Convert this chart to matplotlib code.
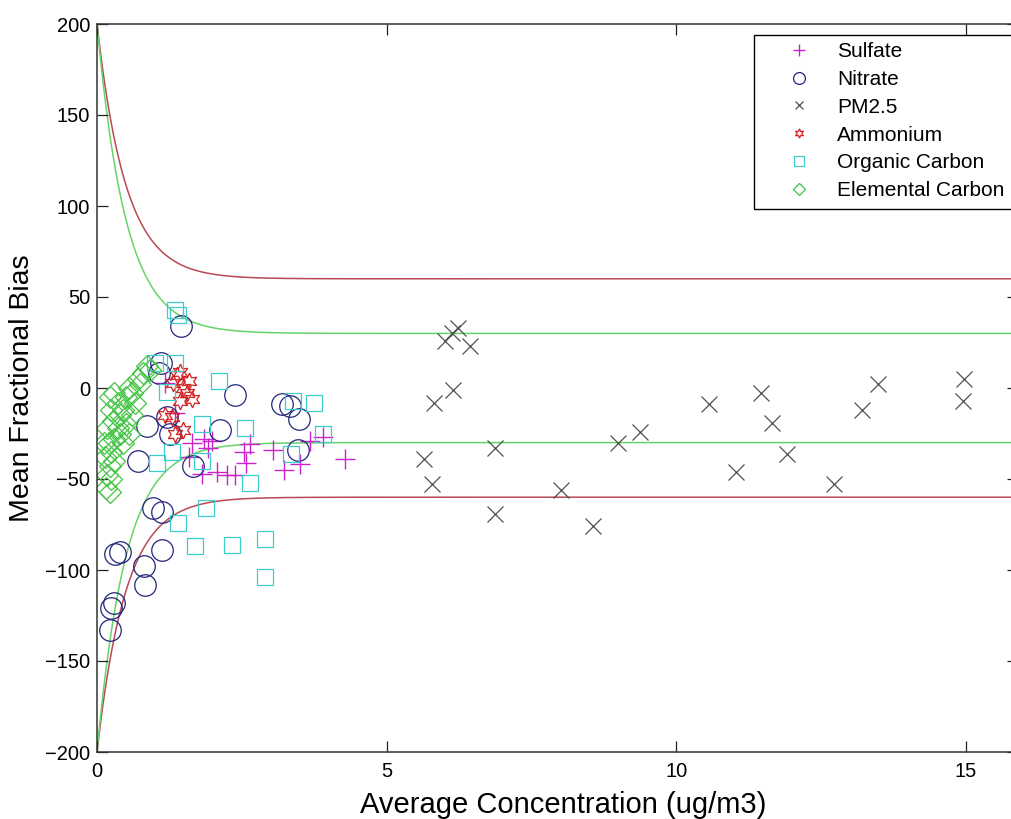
import numpy as np
import matplotlib
matplotlib.use("Agg")
import matplotlib.pyplot as plt
from matplotlib.patches import Rectangle

plt.rcParams['font.family'] = ['Liberation Sans', 'DejaVu Sans']

# ---- data (average concentration ug/m3, mean fractional bias %) ----
sulfate_c = [1.17, 1.35, 1.64, 1.58, 1.84, 1.98, 1.92, 1.81, 2.07, 2.24, 2.38, 2.58, 2.53, 2.64, 3.04, 3.22, 3.51, 3.68, 3.91, 4.28]
sulfate_b = [3, -14, -30, -38, -28, -29, -33, -47, -46, -48, -48, -41, -35, -31, -34, -45, -42, -29, -27, -39]

nitrate_c = [1.45, 1.10, 1.07, 2.38, 0.86, 1.20, 1.26, 2.12, 0.71, 1.65, 3.19, 3.33, 3.49, 3.47, 1.12, 0.97, 1.12, 0.82, 0.83, 0.31, 0.40, 0.30, 0.25, 0.22]
nitrate_b = [34, 14, 8, -4, -21, -16, -25, -23, -40, -43, -9, -10, -17, -34, -68, -66, -89, -98, -108, -91, -90, -118, -121, -133]

pm25_c = [6.24, 6.13, 6.01, 6.44, 6.15, 5.82, 5.64, 5.79, 6.87, 6.87, 8.01, 8.57, 8.99, 9.38, 10.57, 11.03, 11.46, 11.66, 11.91, 12.72, 13.21, 13.49, 14.97, 14.95]
pm25_b = [33, 30, 26, 23, -1, -8, -39, -53, -33, -69, -56, -76, -30, -24, -9, -46, -3, -19, -36, -53, -12, 2, 5, -7]

ammonium_c = [1.43, 1.38, 1.58, 1.32, 1.49, 1.55, 1.64, 1.43, 1.29, 1.17, 1.49, 1.35]
ammonium_b = [9, 7, 4, 3, 0, -3, -6, -7, -16, -15, -23, -25]

oc_c = [1.35, 1.40, 1.00, 1.35, 2.10, 1.20, 1.81, 2.56, 1.29, 1.03, 1.81, 2.64, 1.89, 1.40, 1.69, 2.33, 2.90, 2.90, 3.39, 3.74, 3.91, 3.35]
oc_b = [43, 40, 14, 14, 4, -2, -20, -22, -35, -41, -40, -52, -66, -74, -87, -86, -83, -104, -7, -8, -25, -36]

ec_c = [0.15, 0.22, 0.18, 0.22, 0.13, 0.25, 0.20, 0.30, 0.18, 0.28, 0.36, 0.25, 0.36, 0.30, 0.22, 0.45, 0.50, 0.55, 0.60, 0.40, 0.50, 0.66, 0.70, 0.75, 0.80, 0.86, 0.92, 0.60, 0.40, 0.55, 0.30, 0.45, 0.12, 0.25]
ec_b = [-55, -57, -48, -43, -38, -35, -30, -28, -22, -18, -22, -12, -8, -3, -5, -12, -5, 0, -3, -15, -20, -8, 5, 2, 8, 12, 10, -15, -25, -25, -40, -30, -30, -50]

# performance goal / criteria curves
goal_level, criteria_level = 30, 60
goal_amp, criteria_amp = 170, 140
decay_scale = 0.5

x_ticks = [0, 5, 10, 15]
y_ticks = [-200, -150, -100, -50, 0, 50, 100, 150, 200]

# ---- figure ----
W, H = 1012, 819
fig = plt.figure(figsize=(W / 100, H / 100), dpi=100)
AX_L, AX_R, AX_T, AX_B = 97, 1018, 24, 752
ax = fig.add_axes([AX_L / W, 1 - AX_B / H, (AX_R - AX_L) / W, (AX_B - AX_T) / H])
XMAX = 15.9

cc = np.linspace(0, XMAX, 400)
ec = np.exp(-cc / decay_scale)
red = '#b84a55'
green = '#66d466'
ax.plot(cc, criteria_level + criteria_amp * ec, color=red, lw=1.1, zorder=1)
ax.plot(cc, -criteria_level - criteria_amp * ec, color=red, lw=1.1, zorder=1)
ax.plot(cc, goal_level + goal_amp * ec, color=green, lw=1.1, zorder=1)
ax.plot(cc, -goal_level - goal_amp * ec, color=green, lw=1.1, zorder=1)

kw = dict(linestyle='none', markerfacecolor='none')
ax.plot(sulfate_c, sulfate_b, marker='+', color='#cc22cc', ms=14.5, mew=1.0, label='Sulfate', **kw)
ax.plot(nitrate_c, nitrate_b, marker='o', color='#24247c', ms=15.5, mew=0.9, label='Nitrate', **kw)
ax.plot(pm25_c, pm25_b, marker='x', color='#505050', ms=11.5, mew=0.9, label='PM2.5', **kw)
ax.plot(ammonium_c, ammonium_b, marker=(6, 1, 0), color='#d42020', ms=12, mew=0.9, label='Ammonium', **kw)
ax.plot(oc_c, oc_b, marker='s', color='#3ccccc', ms=12, mew=0.9, label='Organic Carbon', **kw)
ax.plot(ec_c, ec_b, marker='D', color='#44c444', ms=11, mew=0.9, label='Elemental Carbon', **kw)

ax.set_xlim(0, XMAX)
ax.set_ylim(-200, 200)
ax.set_xticks(x_ticks)
ax.set_yticks(y_ticks)
ax.tick_params(direction='in', length=8, width=0.9, labelsize=14.5, top=True, right=True,
               colors='#222222', labelcolor='black')
ax.tick_params(axis='y', pad=5)
ax.tick_params(axis='x', pad=7)
for s in ax.spines.values():
    s.set_color('#333333')
    s.set_linewidth(1.1)

aw, ah = AX_R - AX_L, AX_B - AX_T
ax.set_xlabel('Average Concentration (ug/m3)', fontsize=21)
ax.xaxis.set_label_coords((563 - AX_L) / aw, -(791 - AX_B) / ah)
ax.set_ylabel('Mean Fractional Bias', fontsize=20.5)
ax.yaxis.set_label_coords(-(AX_L - 35) / aw, 0.5)

# legend box (runs past the right edge of the picture, as in the reference)
box = Rectangle((754 / W, 1 - 209 / H), 300 / W, 174 / H, transform=fig.transFigure,
                facecolor='white', edgecolor='black', linewidth=1.0, clip_on=False, zorder=4.9)
ax.add_patch(box)
leg = ax.legend(loc='upper left', bbox_to_anchor=(754 / W, 1 - 35 / H), bbox_transform=fig.transFigure,
                borderaxespad=0, fontsize=15, markerscale=0.55, handlelength=3.6,
                handletextpad=0.05, labelspacing=0.42, borderpad=0.35, frameon=False)

fig.savefig('out.png', dpi=100)
